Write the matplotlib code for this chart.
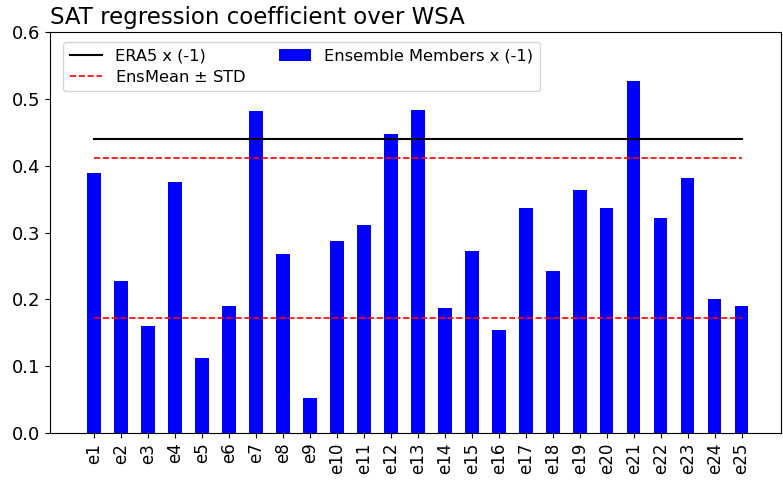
import numpy as np
import matplotlib
matplotlib.use("Agg")
import matplotlib.pyplot as plt

members = ['e%d' % i for i in range(1, 26)]
coef = [0.389, 0.228, 0.160, 0.375, 0.112, 0.190, 0.482, 0.268, 0.053, 0.287,
        0.311, 0.448, 0.483, 0.187, 0.272, 0.154, 0.337, 0.243, 0.363, 0.336,
        0.526, 0.322, 0.382, 0.200, 0.190]
era5 = 0.440
ens_upper = 0.412
ens_lower = 0.172

x = np.arange(1, len(members) + 1)

fig = plt.figure(figsize=(7.83, 4.8), dpi=100)
ax = fig.add_axes([50 / 783, 1 - 433 / 480, 731 / 783, 401 / 480])

ax.plot([x[0], x[-1]], [era5, era5], color='black', lw=1.5, label='ERA5 x (-1)')
ax.plot([x[0], x[-1]], [ens_upper, ens_upper], color='red', ls='--', lw=1.2,
        label='EnsMean $\\pm$ STD')
ax.plot([x[0], x[-1]], [ens_lower, ens_lower], color='red', ls='--', lw=1.2)
ax.bar(x, coef, width=0.5, color='blue', label='Ensemble Members x (-1)')

ax.set_xticks(x)
ax.set_xticklabels(members, rotation=90, fontsize=12)
ax.set_xlim(-0.64, 26.46)
ax.set_ylim(0, 0.6)
ax.set_yticks([0.0, 0.1, 0.2, 0.3, 0.4, 0.5, 0.6])
ax.tick_params(axis='y', labelsize=13)
ax.set_title('SAT regression coefficient over WSA', loc='left', fontsize=16.5)
ax.legend(ncol=2, loc='upper left', fontsize=11.7, labelspacing=0.3,
          bbox_to_anchor=(0.007, 0.995))

fig.savefig('out.png', dpi=100)
